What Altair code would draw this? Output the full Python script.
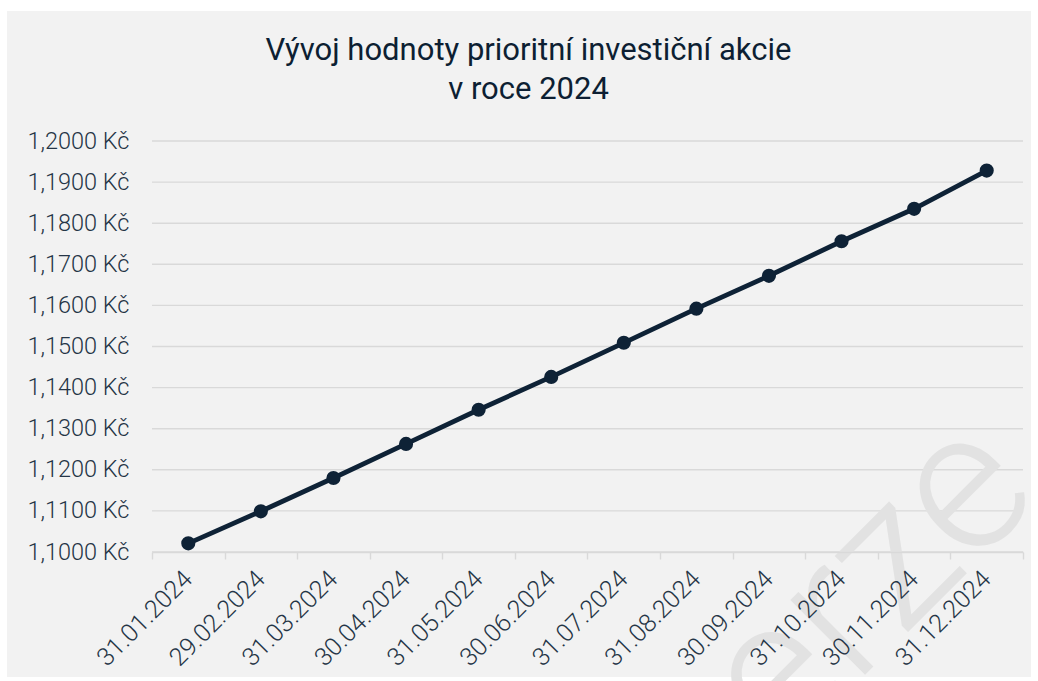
import altair as alt
import pandas as pd

# ---- data ----
dates = ["31.01.2024", "29.02.2024", "31.03.2024", "30.04.2024", "31.05.2024", "30.06.2024",
         "31.07.2024", "31.08.2024", "30.09.2024", "31.10.2024", "30.11.2024", "31.12.2024"]
values = [1.1021, 1.1099, 1.1180, 1.1263, 1.1346, 1.1426,
          1.1509, 1.1592, 1.1672, 1.1756, 1.1835, 1.1928]
y_ticks = [1.10, 1.11, 1.12, 1.13, 1.14, 1.15, 1.16, 1.17, 1.18, 1.19, 1.20]
title_lines = ["Vývoj hodnoty prioritní investiční akcie", "v roce 2024"]
watermark = ["verze"]

W, H = 871, 411
NAVY = "#0e2236"
LABEL = "#253546"
GRID = "#d9d9d9"
BG = "#f2f2f2"

df = pd.DataFrame({"datum": dates, "hodnota": values})
grid_df = pd.DataFrame({"t": y_ticks})
wm_df = pd.DataFrame({"w": watermark})
bg_df = pd.DataFrame({"k": [1]})

y_scale = alt.Scale(domain=[1.1, 1.2], nice=False, zero=False)
y_axis = alt.Axis(
    title=None, values=y_ticks,
    labelExpr="replace(format(datum.value, '.4f'), '.', ',') + ' Kč'",
    labelFont="Roboto", labelFontSize=23.5, labelFontWeight=300, labelColor=LABEL,
    domain=False, ticks=False, tickSize=0, labelPadding=23, grid=False,
    labelOverlap=False, zindex=1,
)
x_enc = alt.X(
    "datum:N", sort=None,
    scale=alt.Scale(type="band", paddingInner=0, paddingOuter=0),
    axis=alt.Axis(
        title=None, labelAngle=-45, labelAlign="right", labelBaseline="top",
        labelFont="Roboto", labelFontSize=25, labelFontWeight=300, labelColor=LABEL,
        domainColor=GRID, domainWidth=1.4, tickColor=GRID, tickWidth=1.4, tickSize=7,
        tickBand="extent", labelPadding=7, labelOffset=-9, grid=False,
        labelOverlap=False, zindex=1,
    ),
)

bg = alt.Chart(bg_df).mark_rect(color=BG).encode(
    x=alt.value(-145), x2=alt.value(879), y=alt.value(-130), y2=alt.value(536)
)
grid = alt.Chart(grid_df).mark_rule(color=GRID, strokeWidth=1.4).encode(
    y=alt.Y("t:Q", scale=y_scale, axis=y_axis)
)
wm = alt.Chart(wm_df).mark_text(
    font="Roboto", fontSize=200, fontWeight=300, color="#e2e2e2",
    angle=315, align="center", baseline="middle"
).encode(text="w:N", x=alt.value(684), y=alt.value(478))

line = alt.Chart(df).mark_line(color=NAVY, strokeWidth=4.8).encode(
    x=x_enc, y=alt.Y("hodnota:Q", scale=y_scale, axis=y_axis)
)
pts = alt.Chart(df).mark_circle(color=NAVY, size=200, opacity=1).encode(
    x=x_enc, y=alt.Y("hodnota:Q", scale=y_scale, axis=y_axis)
)

chart = alt.layer(bg, grid, wm, line, pts).properties(
    width=W, height=H,
    title=alt.TitleParams(
        text=title_lines, font="Roboto", fontSize=31, fontWeight="normal", color="#0d1f33",
        anchor="middle", frame="group", dx=-59, lineHeight=39.5, offset=-95,
    ),
    background="white",
    padding={"left": 152, "top": 141, "right": 15, "bottom": 129},
    autosize=alt.AutoSizeParams(type="none"),
).configure_view(stroke=None)

chart.save("out.html", embed_options={"renderer": "svg", "actions": False})
